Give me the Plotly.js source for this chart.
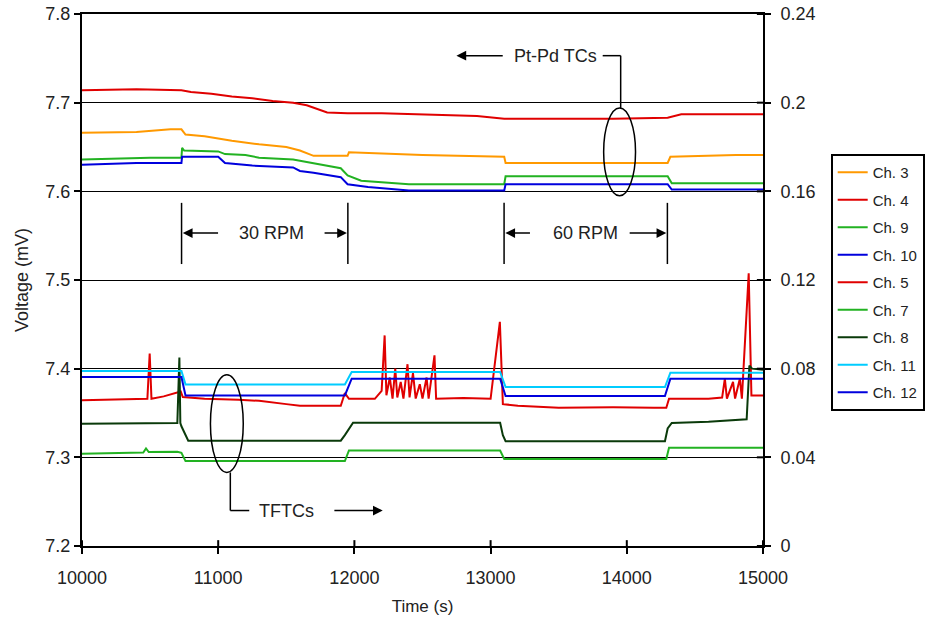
<!DOCTYPE html>
<html>
<head>
<meta charset="utf-8">
<script src="https://cdn.plot.ly/plotly-3.0.1.min.js"></script>
<style>html,body{margin:0;padding:0;background:#fff;}#chart{width:937px;height:622px;}</style>
</head>
<body>
<div id="chart"></div>
<script>
// ---- Pt-Pd TCs (left axis, mV) ----
const ch3_t = [10000, 10400, 10650, 10730, 10760, 10900, 11100, 11300, 11500, 11600, 11700, 11950, 11960, 12500, 13100, 13110, 14300, 14320, 14800, 15000];
const ch3_v = [7.666, 7.667, 7.670, 7.670, 7.664, 7.662, 7.657, 7.653, 7.650, 7.646, 7.640, 7.640, 7.644, 7.641, 7.639, 7.632, 7.632, 7.639, 7.641, 7.641];

const ch4_t = [10000, 10400, 10730, 10800, 10950, 11100, 11250, 11400, 11550, 11650, 11800, 11950, 12200, 12600, 12900, 13100, 13500, 13900, 14300, 14400, 15000];
const ch4_v = [7.714, 7.715, 7.714, 7.712, 7.710, 7.707, 7.705, 7.702, 7.700, 7.697, 7.689, 7.688, 7.688, 7.686, 7.685, 7.682, 7.682, 7.682, 7.683, 7.687, 7.687];

const ch9_t = [10000, 10500, 10730, 10735, 10750, 11000, 11050, 11200, 11300, 11550, 11650, 11750, 11900, 11950, 12050, 12400, 13100, 13110, 14300, 14330, 15000];
const ch9_v = [7.636, 7.638, 7.638, 7.649, 7.646, 7.645, 7.642, 7.641, 7.638, 7.636, 7.633, 7.630, 7.626, 7.618, 7.612, 7.608, 7.608, 7.617, 7.617, 7.609, 7.609];

const ch10_t = [10000, 10400, 10730, 10735, 11000, 11050, 11250, 11550, 11600, 11700, 11900, 11950, 12100, 12400, 13100, 13110, 14300, 14330, 15000];
const ch10_v = [7.630, 7.632, 7.632, 7.639, 7.639, 7.632, 7.629, 7.627, 7.623, 7.621, 7.616, 7.608, 7.605, 7.601, 7.601, 7.608, 7.608, 7.602, 7.602];

// ---- TFTCs (right axis, mV) ----
const ch5_t = [10000, 10200, 10400, 10480, 10497, 10510, 10600, 10700, 10725, 10740, 10900, 11150, 11300, 11500, 11600, 11900, 11930, 11960, 12150, 12200, 12222, 12235, 12260, 12280, 12300, 12315, 12340, 12360, 12390, 12405, 12430, 12450, 12480, 12500, 12530, 12545, 12588, 12600, 12800, 13000, 13068, 13090, 13200, 13500, 13900, 14200, 14290, 14310, 14600, 14700, 14720, 14735, 14780, 14795, 14830, 14845, 14895, 14915, 15000];
const ch5_v = [0.0657, 0.0660, 0.0664, 0.0664, 0.0868, 0.0664, 0.0675, 0.0690, 0.0697, 0.0672, 0.0664, 0.0660, 0.0655, 0.0640, 0.0633, 0.0633, 0.0690, 0.0664, 0.0664, 0.0700, 0.0950, 0.0680, 0.0760, 0.0665, 0.0800, 0.0670, 0.0740, 0.0665, 0.0820, 0.0670, 0.0780, 0.0665, 0.0730, 0.0665, 0.0760, 0.0665, 0.0860, 0.0664, 0.0668, 0.0664, 0.1011, 0.0640, 0.0633, 0.0624, 0.0626, 0.0624, 0.0624, 0.0664, 0.0664, 0.0670, 0.0755, 0.0665, 0.0740, 0.0665, 0.0755, 0.0665, 0.1230, 0.0679, 0.0679];

const ch7_t = [10000, 10450, 10470, 10490, 10700, 10730, 10760, 11930, 11960, 13070, 13100, 14290, 14310, 15000];
const ch7_v = [0.0416, 0.0422, 0.0440, 0.0424, 0.0425, 0.0420, 0.0383, 0.0383, 0.0431, 0.0431, 0.0393, 0.0393, 0.0443, 0.0443];

const ch8_t = [10000, 10500, 10700, 10715, 10722, 10730, 10780, 11900, 11930, 11990, 13070, 13090, 13110, 14280, 14300, 14330, 14600, 14880, 14900, 14920, 15000];
const ch8_v = [0.0551, 0.0553, 0.0555, 0.0850, 0.0555, 0.0540, 0.0475, 0.0475, 0.0500, 0.0556, 0.0556, 0.0500, 0.0473, 0.0473, 0.0530, 0.0555, 0.0560, 0.0572, 0.0814, 0.0800, 0.0795];

const ch11_t = [10000, 10730, 10760, 11930, 11980, 13070, 13110, 14280, 14320, 15000];
const ch11_v = [0.0790, 0.0790, 0.0729, 0.0729, 0.0785, 0.0785, 0.0717, 0.0717, 0.0782, 0.0782];

const ch12_t = [10000, 10730, 10760, 11930, 11980, 13070, 13110, 14280, 14320, 15000];
const ch12_v = [0.0762, 0.0762, 0.0679, 0.0679, 0.0755, 0.0755, 0.0677, 0.0677, 0.0755, 0.0755];

const seriesNames = ["Ch. 3", "Ch. 4", "Ch. 9", "Ch. 10", "Ch. 5", "Ch. 7", "Ch. 8", "Ch. 11", "Ch. 12"];
const xTicks = [10000, 11000, 12000, 13000, 14000, 15000];
const y2Ticks = [0, 0.04, 0.08, 0.12, 0.16, 0.2, 0.24];

const FONT = "Liberation Sans, Arial, sans-serif";
const ORANGE = "#FF9900", RED = "#E00000", GREEN = "#22B222", BLUE = "#0000DD", DKGREEN = "#0A3A0A", CYAN = "#00CCFF";

const defs = [
  [ch3_t, ch3_v, ORANGE, "y"],
  [ch4_t, ch4_v, RED, "y"],
  [ch9_t, ch9_v, GREEN, "y"],
  [ch10_t, ch10_v, BLUE, "y"],
  [ch5_t, ch5_v, RED, "y2"],
  [ch7_t, ch7_v, GREEN, "y2"],
  [ch8_t, ch8_v, DKGREEN, "y2"],
  [ch11_t, ch11_v, CYAN, "y2"],
  [ch12_t, ch12_v, BLUE, "y2"]
];
const traces = defs.map((d, i) => ({
  x: d[0], y: d[1], name: seriesNames[i], type: "scatter", mode: "lines",
  yaxis: d[3], legendgroup: "g" + i,
  line: {color: d[2], width: 2}
}));

const LC = "#000";
const shapes = [
  // Pt-Pd ellipse and connector
  {type: "circle", xref: "x", yref: "y", x0: 13830, x1: 14064, y0: 7.595, y1: 7.694, line: {color: LC, width: 1.5}},
  {type: "line", xref: "x", yref: "y", x0: 13823, x1: 13955, y0: 7.753, y1: 7.753, line: {color: LC, width: 1.5}},
  {type: "line", xref: "x", yref: "y", x0: 13955, x1: 13955, y0: 7.753, y1: 7.694, line: {color: LC, width: 1.5}},
  // RPM markers
  {type: "line", xref: "x", yref: "y", x0: 10731, x1: 10731, y0: 7.518, y1: 7.587, line: {color: LC, width: 1.5}},
  {type: "line", xref: "x", yref: "y", x0: 11952, x1: 11952, y0: 7.518, y1: 7.587, line: {color: LC, width: 1.5}},
  {type: "line", xref: "x", yref: "y", x0: 13099, x1: 13099, y0: 7.518, y1: 7.587, line: {color: LC, width: 1.5}},
  {type: "line", xref: "x", yref: "y", x0: 14298, x1: 14298, y0: 7.518, y1: 7.587, line: {color: LC, width: 1.5}},
  // TFTCs ellipse and connector
  {type: "circle", xref: "x", yref: "y", x0: 10943, x1: 11184, y0: 7.283, y1: 7.393, line: {color: LC, width: 1.5}},
  {type: "line", xref: "x", yref: "y", x0: 11089, x1: 11089, y0: 7.283, y1: 7.240, line: {color: LC, width: 1.5}},
  {type: "line", xref: "x", yref: "y", x0: 11089, x1: 11228, y0: 7.240, y1: 7.240, line: {color: LC, width: 1.5}}
];
// inner halves of the crossing tick marks (bottom and right axes)
xTicks.forEach(v => shapes.push({type: "line", xref: "x", yref: "paper", x0: v, x1: v, y0: 0, y1: 0.011, line: {color: LC, width: 2}}));
y2Ticks.forEach(v => shapes.push({type: "line", xref: "paper", yref: "y2", x0: 0.991, x1: 1, y0: v, y1: v, line: {color: LC, width: 2}}));

function arrow(x0, x1, y) {
  return {x: x1, y: y, ax: x0, ay: y, xref: "x", yref: "y", axref: "x", ayref: "y",
    text: "", showarrow: true, arrowhead: 2, arrowsize: 1.3, arrowwidth: 1.5, arrowcolor: LC, standoff: 0, startstandoff: 0};
}
function label(x, y, t) {
  return {x: x, y: y, xref: "x", yref: "y", text: t, showarrow: false, font: {family: FONT, size: 18, color: "#222"}};
}
const annotations = [
  label(13480, 7.753, "Pt-Pd TCs"),
  arrow(13100, 12749, 7.753),
  label(11389, 7.553, "30 RPM"),
  arrow(11010, 10740, 7.553),
  arrow(11770, 11945, 7.553),
  label(13699, 7.553, "60 RPM"),
  arrow(13300, 13108, 7.553),
  arrow(14010, 14290, 7.553),
  label(11499, 7.240, "TFTCs"),
  arrow(11842, 12208, 7.240),
  {x: -0.088, y: 0.5, xref: "paper", yref: "paper", xanchor: "center", yanchor: "middle", text: "Voltage (mV)", textangle: -90, showarrow: false,
   font: {family: FONT, size: 18, color: "#222"}}
];

const layout = {
  width: 937, height: 622,
  margin: {l: 82, r: 171, t: 14, b: 76},
  paper_bgcolor: "#fff", plot_bgcolor: "#fff",
  font: {family: FONT, size: 18, color: "#222"},
  showlegend: true,
  legend: {x: 1.0994, y: 0.737, xanchor: "left", yanchor: "top", bordercolor: "#000", borderwidth: 2,
    font: {family: FONT, size: 15, color: "#222"}, tracegroupgap: 5, bgcolor: "#fff"},
  xaxis: {range: [10000, 15000], tickvals: xTicks, ticktext: xTicks.map(String),
    showline: true, linewidth: 2, linecolor: "#000", mirror: true, ticks: "outside", ticklen: 6, tickwidth: 2, tickcolor: "#000",
    ticklabelstandoff: 8,
    showgrid: false, zeroline: false, tickfont: {family: FONT, size: 18, color: "#222"},
    title: {text: "Time (s)", font: {family: FONT, size: 17, color: "#222"}, standoff: 14}},
  yaxis: {range: [7.2, 7.8], dtick: 0.1, tick0: 7.2, tickformat: ".1f",
    showline: true, linewidth: 2, linecolor: "#000", ticks: "outside", ticklen: 6, tickwidth: 2, tickcolor: "#000",
    showgrid: true, gridcolor: "#000", gridwidth: 1, zeroline: false, tickfont: {family: FONT, size: 18, color: "#222"}},
  yaxis2: {range: [0, 0.24], tickvals: y2Ticks, ticktext: y2Ticks.map(String), overlaying: "y", side: "right",
    showline: true, linewidth: 2, linecolor: "#000", ticks: "outside", ticklen: 6, tickwidth: 2, tickcolor: "#000",
    ticklabelstandoff: 6,
    showgrid: false, zeroline: false, tickfont: {family: FONT, size: 18, color: "#222"}},
  shapes: shapes,
  annotations: annotations
};

Plotly.newPlot("chart", traces, layout, {displayModeBar: false, staticPlot: true});
</script>
</body>
</html>
